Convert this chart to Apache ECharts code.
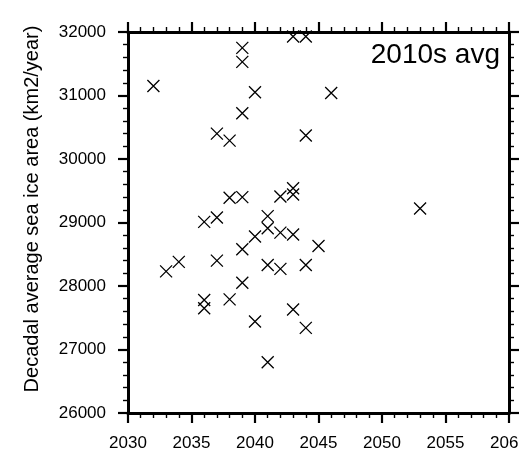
<!DOCTYPE html>
<html>
<head>
<meta charset="utf-8">
<script src="https://cdn.jsdelivr.net/npm/echarts@6/dist/echarts.min.js"></script>
<style>
  html, body { margin: 0; padding: 0; background: #fff; overflow: hidden; }
  #chart { width: 519px; height: 461px; }
</style>
</head>
<body>
<div id="chart"></div>
<script>
// Year in which each ensemble member's decade is centred
const years = [
  2032, 2039, 2039, 2043, 2044, 2040, 2039, 2037, 2038, 2044,
  2046, 2053, 2038, 2039, 2042, 2043, 2043, 2036, 2037, 2041,
  2041, 2042, 2043, 2040, 2039, 2045, 2034, 2033, 2037, 2041,
  2042, 2044, 2039, 2036, 2036, 2038, 2043, 2040, 2044, 2041
];
// Decadal average sea ice area (km2/year)
const iceArea = [
  31150, 31750, 31530, 31930, 31930, 31050, 30720, 30400, 30290, 30370,
  31040, 29220, 29390, 29400, 29410, 29540, 29440, 29010, 29080, 29100,
  28910, 28840, 28810, 28780, 28580, 28630, 28380, 28230, 28400, 28330,
  28270, 28330, 28050, 27780, 27650, 27790, 27630, 27440, 27340, 26800
];
const xTicks = { min: 2030, max: 2060, step: 5 };
const yTicks = { min: 26000, max: 32000, step: 1000 };
const panelTitle = '2010s avg';
const yTitle = 'Decadal average sea ice area (km2/year)';

const points = years.map((y, i) => [y, iceArea[i]]);
const FONT = '"Liberation Sans", Arial, Helvetica, sans-serif';
const plain = v => String(v);

const axisLine = { show: true, onZero: false, lineStyle: { color: '#000', width: 3 } };
const axisTick = { show: true, inside: false, length: 10, lineStyle: { color: '#000', width: 2.2 } };
const minorTick = { show: true, splitNumber: 5, length: 5, lineStyle: { color: '#000', width: 1.4 } };

const chart = echarts.init(document.getElementById('chart'), null, { renderer: 'canvas' });
chart.setOption({
  animation: false,
  backgroundColor: '#fff',
  grid: { left: 128, right: 10, top: 32, bottom: 48, containLabel: false, outerBoundsMode: 'none' },
  xAxis: [
    {
      type: 'value', position: 'bottom',
      min: xTicks.min, max: xTicks.max, interval: xTicks.step,
      axisLine, axisTick, minorTick,
      splitLine: { show: false },
      axisLabel: {
        show: true, margin: 22, color: '#000', fontSize: 17, fontFamily: FONT,
        formatter: plain, showMaxLabel: true, showMinLabel: true, hideOverlap: false
      }
    },
    {
      type: 'value', position: 'top',
      min: xTicks.min, max: xTicks.max, interval: xTicks.step,
      axisLine, axisTick, minorTick,
      splitLine: { show: false },
      axisLabel: { show: false }
    }
  ],
  yAxis: [
    {
      type: 'value', position: 'left',
      min: yTicks.min, max: yTicks.max, interval: yTicks.step,
      axisLine, axisTick, minorTick,
      splitLine: { show: false },
      axisLabel: { show: true, margin: 22, color: '#000', fontSize: 17, fontFamily: FONT, formatter: plain }
    },
    {
      type: 'value', position: 'right',
      min: yTicks.min, max: yTicks.max, interval: yTicks.step,
      axisLine, axisTick, minorTick,
      splitLine: { show: false },
      axisLabel: { show: false }
    }
  ],
  graphic: [
    {
      // vertical axis title, set slightly above the plot's mid-height
      type: 'text', x: 32, y: 209, rotation: Math.PI / 2, z: 10,
      style: {
        text: yTitle, fill: '#000', fontSize: 20, fontFamily: FONT,
        align: 'center', verticalAlign: 'middle'
      }
    },
    {
      type: 'text', right: 19, top: 41, z: 10,
      style: { text: panelTitle, fill: '#000', fontSize: 28, fontFamily: FONT }
    }
  ],
  series: [
    {
      type: 'scatter',
      xAxisIndex: 0, yAxisIndex: 0,
      data: points,
      symbol: 'path://M0,0L10,10M10,0L0,10',
      symbolSize: 12,
      itemStyle: { color: 'rgba(0,0,0,0)', borderColor: '#000', borderWidth: 1.3, opacity: 1 },
      clip: false
    }
  ]
});
</script>
</body>
</html>
